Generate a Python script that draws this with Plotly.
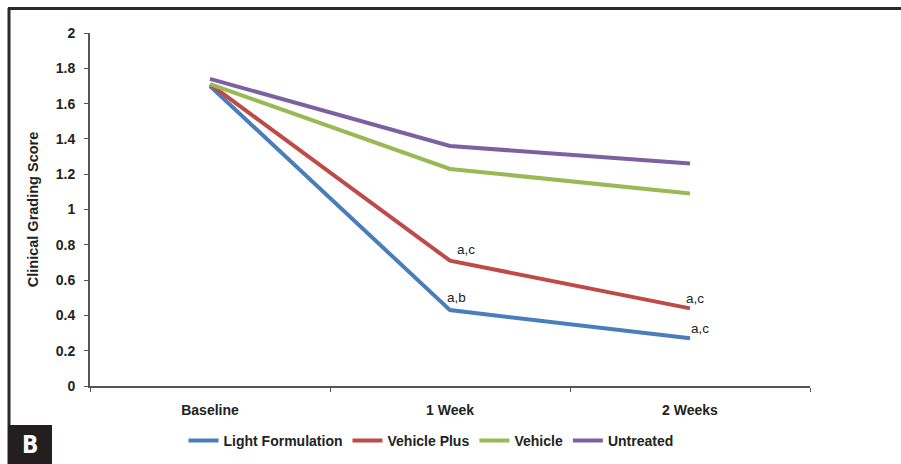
import plotly.graph_objects as go

categories = ["Baseline", "1 Week", "2 Weeks"]
light_formulation = [1.70, 0.43, 0.27]
vehicle_plus = [1.71, 0.71, 0.44]
vehicle = [1.71, 1.23, 1.09]
untreated = [1.74, 1.36, 1.26]

series = [
    ("Light Formulation", light_formulation, "#4a7ebb"),
    ("Vehicle Plus", vehicle_plus, "#be4b48"),
    ("Vehicle", vehicle, "#98b954"),
    ("Untreated", untreated, "#7d60a0"),
]

ann_labels = [
    ("1 Week", light_formulation[1], "a,b", 6, 13),
    ("1 Week", vehicle_plus[1], "a,c", 16, 11),
    ("2 Weeks", vehicle_plus[2], "a,c", 5, 10),
    ("2 Weeks", light_formulation[2], "a,c", 10, 10),
]

FONT = "Arial, 'Liberation Sans', sans-serif"

fig = go.Figure()
for name, vals, color in series:
    fig.add_trace(go.Scatter(x=categories, y=vals, name=name, mode="lines",
                             line=dict(color=color, width=4)))

for x, y, t, dx, dy in ann_labels:
    fig.add_annotation(x=x, y=y, text=t, showarrow=False, xshift=dx, yshift=dy,
                       xanchor="center", yanchor="middle",
                       font=dict(family=FONT, size=13.5, color="#222"))

L, R, T, B = 90, 91, 33, 78
W, H = 901, 464
pw, ph = W - L - R, H - T - B

def px(xp):
    return (xp - L) / pw

def py(yp):
    return (H - B - yp) / ph

shapes = [
    dict(type="line", xref="paper", yref="paper", x0=px(8), x1=px(905), y0=py(8.5), y1=py(8.5),
         line=dict(color="#2a2a2a", width=3), layer="above"),
    dict(type="line", xref="paper", yref="paper", x0=px(9), x1=px(9), y0=py(8), y1=py(464),
         line=dict(color="#2a2a2a", width=3), layer="above"),
    dict(type="rect", xref="paper", yref="paper", x0=px(8), x1=px(52), y0=py(425), y1=py(466),
         fillcolor="#231f20", line=dict(width=0), layer="above"),
]
fig.add_annotation(xref="paper", yref="paper", x=px(30), y=py(445), text="B", showarrow=False,
                   xanchor="center", yanchor="middle",
                   font=dict(family="'DejaVu Sans Condensed', 'Liberation Sans Narrow', sans-serif",
                             size=24, color="white", weight="bold"))

fig.update_layout(
    width=W, height=H,
    margin=dict(l=L, r=R, t=T, b=B, autoexpand=False),
    paper_bgcolor="white", plot_bgcolor="white",
    shapes=shapes,
    showlegend=True,
    legend=dict(orientation="h", x=px(431), xanchor="center", y=py(441), yanchor="middle",
                font=dict(family=FONT, size=14, color="#222", weight="bold"),
                itemwidth=30, tracegroupgap=0),
    font=dict(family=FONT),
)
fig.update_xaxes(range=[-0.5, 2.5], showgrid=False, showline=True, linecolor="#555", linewidth=2,
                 ticks="outside", ticklen=4, tickcolor="#555", tickson="boundaries",
                 tickfont=dict(family=FONT, size=14, color="#222", weight="bold"),
                 ticklabelstandoff=10, zeroline=False, automargin=False)
fig.update_yaxes(range=[0, 2], dtick=0.2, showgrid=False, showline=True, linecolor="#555", linewidth=2,
                 ticks="outside", ticklen=4, tickcolor="#555", zeroline=False,
                 tickformat="~g", ticklabelstandoff=6, automargin=False,
                 tickfont=dict(family=FONT, size=14, color="#222", weight="bold"),
                 title=dict(text="Clinical Grading Score", standoff=14,
                            font=dict(family=FONT, size=14.5, color="#222", weight="bold")))

fig.write_html("out.html")
